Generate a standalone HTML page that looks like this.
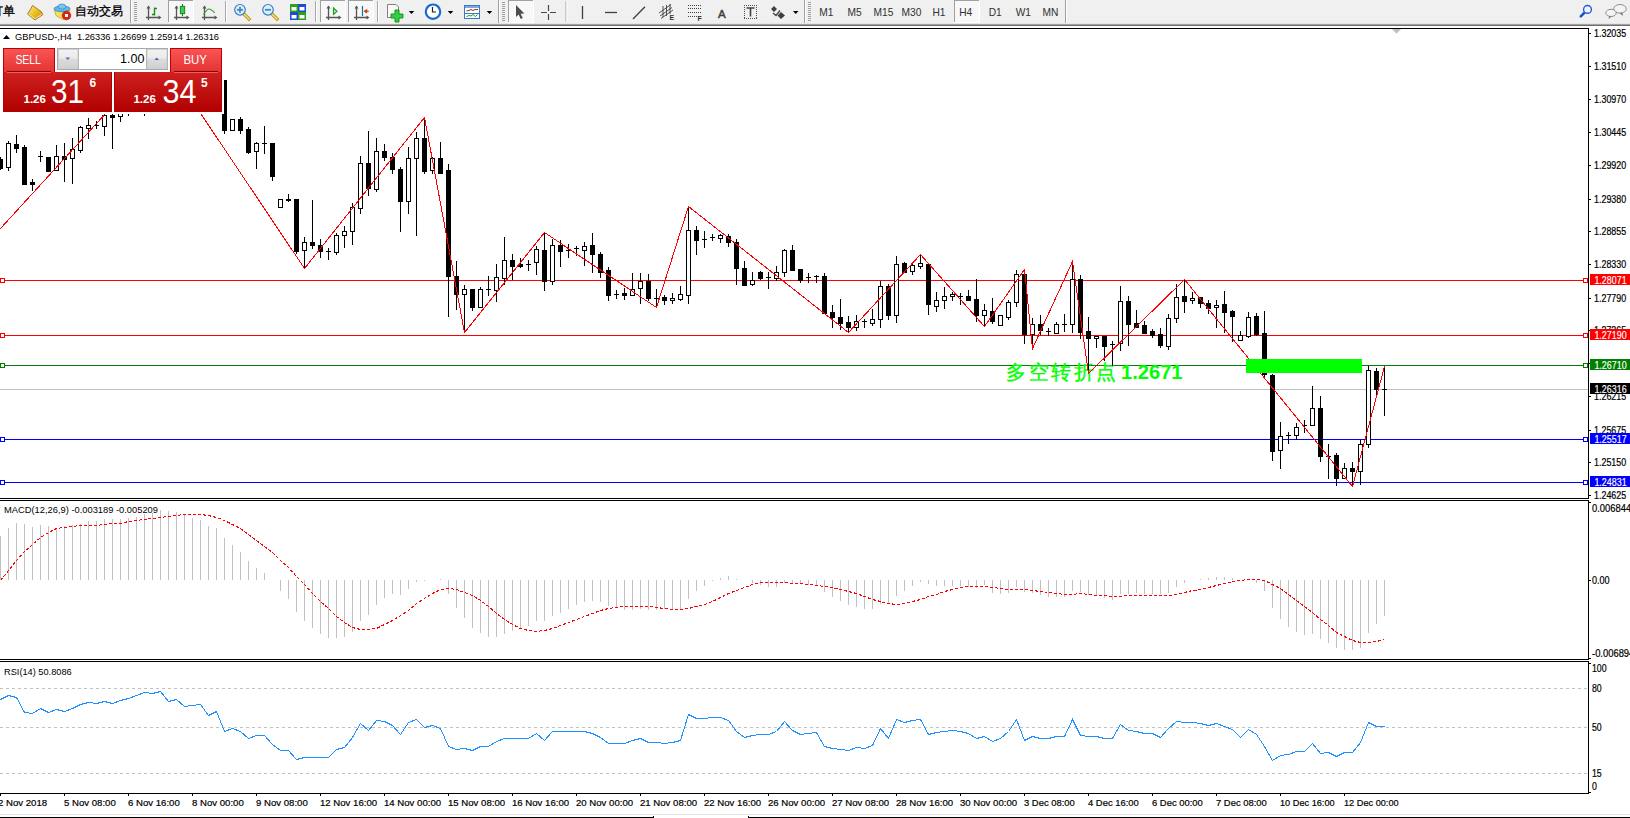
<!DOCTYPE html>
<html><head><meta charset="utf-8"><style>
html,body{margin:0;padding:0;background:#fff;width:1630px;height:818px;overflow:hidden;}
svg text{font-family:"Liberation Sans", sans-serif;}
.tb{position:absolute;left:0;top:0;width:1630px;height:24px;background:#f0f0f0;}
</style></head><body>
<svg width="1630" height="818" viewBox="0 0 1630 818" style="position:absolute;left:0;top:0">
<rect x="0" y="0" width="1630" height="24" fill="#f0f0f0"/><rect x="0" y="23" width="1630" height="1" fill="#e6e6e6"/><rect x="0" y="24" width="1630" height="1" fill="#a3a3a3"/><rect x="0" y="25" width="1630" height="1" fill="#6e6e6e"/><text x="-9" y="14.6" font-size="12" fill="#000" stroke="#000" stroke-width="0.3" style="font-family:'Liberation Sans',sans-serif">订单</text><defs><linearGradient id="gbk" x1="0" y1="0" x2="1" y2="1"><stop offset="0" stop-color="#fff0a0"/><stop offset="0.5" stop-color="#e8c020"/><stop offset="1" stop-color="#c89010"/></linearGradient></defs><path d="M32.5 5.5 L41.5 11.8 L43 14.5 L35 20 L27.5 14 L31 8.5 Z" fill="url(#gbk)" stroke="#a86a18" stroke-width="0.9"/><path d="M28.5 14 L35.2 18.8 L42.5 13.8" fill="none" stroke="#f8e8b0" stroke-width="0.9"/><path d="M54.5 10.5 L70 10.5 L63.5 19.8 L56 15.5 Z" fill="#f4e060" stroke="#c8a020" stroke-width="0.8"/><ellipse cx="62" cy="8.8" rx="8" ry="2.9" fill="#64b8ea" stroke="#2a86b8" stroke-width="0.8"/><ellipse cx="62" cy="6.6" rx="3.8" ry="2.6" fill="#78c8f2" stroke="#2a86b8" stroke-width="0.7"/><circle cx="66.5" cy="15.5" r="4.3" fill="#e02010" stroke="#b01008" stroke-width="0.6"/><rect x="65" y="14" width="3" height="3" fill="#fff"/><text x="75.3" y="14.5" font-size="11.6" fill="#000" stroke="#000" stroke-width="0.3" style="font-family:'Liberation Sans',sans-serif">自动交易</text><rect x="130" y="0" width="1" height="23" fill="#a0a0a0"/><rect x="131" y="0" width="1" height="23" fill="#fff"/><rect x="134" y="2" width="3" height="1" fill="#a0a0a0"/><rect x="134" y="4" width="3" height="1" fill="#a0a0a0"/><rect x="134" y="6" width="3" height="1" fill="#a0a0a0"/><rect x="134" y="8" width="3" height="1" fill="#a0a0a0"/><rect x="134" y="10" width="3" height="1" fill="#a0a0a0"/><rect x="134" y="12" width="3" height="1" fill="#a0a0a0"/><rect x="134" y="14" width="3" height="1" fill="#a0a0a0"/><rect x="134" y="16" width="3" height="1" fill="#a0a0a0"/><rect x="134" y="18" width="3" height="1" fill="#a0a0a0"/><rect x="134" y="20" width="3" height="1" fill="#a0a0a0"/><path d="M148.5 6 V20 M146.0 17.5 H160.0" stroke="#555" stroke-width="1.3" fill="none"/><path d="M146.5 8.5 L148.5 5.5 L150.5 8.5 Z M158.5 15.5 L161.5 17.5 L158.5 19.5 Z" fill="#555"/><path d="M154.5 7.5 V15.5 M154.5 8.5 H157 M152 14.5 H154.5" stroke="#109010" stroke-width="1.3" fill="none"/><rect x="168" y="0" width="25" height="22" fill="#f8f8f8"/><rect x="168" y="0" width="1" height="22" fill="#a0a0a0"/><rect x="168" y="0" width="25" height="1" fill="#a0a0a0"/><rect x="168" y="22" width="26" height="1" fill="#fff"/><rect x="193" y="0" width="1" height="23" fill="#fff"/><path d="M176.5 6 V20 M174.0 17.5 H188.0" stroke="#555" stroke-width="1.3" fill="none"/><path d="M174.5 8.5 L176.5 5.5 L178.5 8.5 Z M186.5 15.5 L189.5 17.5 L186.5 19.5 Z" fill="#555"/><rect x="180.3" y="6.3" width="4.4" height="7.4" fill="#30d050" stroke="#108010" stroke-width="0.9"/><path d="M182.5 4 V6.3 M182.5 13.7 V16" stroke="#108010" stroke-width="1.1"/><path d="M204.5 6 V20 M202.0 17.5 H216.0" stroke="#555" stroke-width="1.3" fill="none"/><path d="M202.5 8.5 L204.5 5.5 L206.5 8.5 Z M214.5 15.5 L217.5 17.5 L214.5 19.5 Z" fill="#555"/><path d="M203.5 14.5 Q207 9 209 9 Q211 9 214.7 12.8" stroke="#30a030" stroke-width="1.2" fill="none"/><rect x="225" y="1" width="1" height="21" fill="#a8a8a8"/><rect x="226" y="1" width="1" height="21" fill="#fff"/><path d="M243 13 L249 19" stroke="#b08010" stroke-width="3.2" stroke-linecap="square"/><path d="M243 13 L249 19" stroke="#f0d860" stroke-width="1.8" stroke-linecap="square"/><circle cx="240" cy="9.8" r="5.3" fill="#d8f0ff" stroke="#3a7cc4" stroke-width="1.2"/><path d="M237 9.8 H243" stroke="#4a88b4" stroke-width="1.8"/><path d="M240 6.8 V12.8" stroke="#4a88b4" stroke-width="1.8"/><path d="M271 13 L277 19" stroke="#b08010" stroke-width="3.2" stroke-linecap="square"/><path d="M271 13 L277 19" stroke="#f0d860" stroke-width="1.8" stroke-linecap="square"/><circle cx="268" cy="9.8" r="5.3" fill="#d8f0ff" stroke="#3a7cc4" stroke-width="1.2"/><path d="M265 9.8 H271" stroke="#4a88b4" stroke-width="1.8"/><rect x="290" y="4" width="8" height="8" fill="#2ea020"/><rect x="291.5" y="7" width="5" height="3.5" fill="#fff"/><rect x="298" y="4" width="8" height="8" fill="#1c4cd0"/><rect x="299.5" y="7" width="5" height="3.5" fill="#fff"/><rect x="290" y="12" width="8" height="8" fill="#1c4cd0"/><rect x="291.5" y="15" width="5" height="3.5" fill="#fff"/><rect x="298" y="12" width="8" height="8" fill="#2ea020"/><rect x="299.5" y="15" width="5" height="3.5" fill="#fff"/><rect x="315" y="1" width="1" height="21" fill="#a8a8a8"/><rect x="316" y="1" width="1" height="21" fill="#fff"/><rect x="320" y="0" width="25" height="22" fill="#f8f8f8"/><rect x="320" y="0" width="1" height="22" fill="#a0a0a0"/><rect x="320" y="0" width="25" height="1" fill="#a0a0a0"/><rect x="320" y="22" width="26" height="1" fill="#fff"/><rect x="345" y="0" width="1" height="23" fill="#fff"/><path d="M328.5 6 V20 M326.0 17.5 H340.0" stroke="#555" stroke-width="1.3" fill="none"/><path d="M326.5 8.5 L328.5 5.5 L330.5 8.5 Z M338.5 15.5 L341.5 17.5 L338.5 19.5 Z" fill="#555"/><path d="M333.5 8 L337 11.3 L333.5 14.5 Z" fill="#c8f0c8" stroke="#20a020" stroke-width="1.2"/><rect x="348" y="0" width="25" height="22" fill="#f8f8f8"/><rect x="348" y="0" width="1" height="22" fill="#a0a0a0"/><rect x="348" y="0" width="25" height="1" fill="#a0a0a0"/><rect x="348" y="22" width="26" height="1" fill="#fff"/><rect x="373" y="0" width="1" height="23" fill="#fff"/><path d="M356.5 6 V20 M354.0 17.5 H368.0" stroke="#555" stroke-width="1.3" fill="none"/><path d="M354.5 8.5 L356.5 5.5 L358.5 8.5 Z M366.5 15.5 L369.5 17.5 L366.5 19.5 Z" fill="#555"/><path d="M362.5 6 V16" stroke="#1070b0" stroke-width="1.2"/><path d="M364 11.3 L367 9.5 L366 11.3 L368.5 11.3 L366 11.3 L367 13 Z" fill="#d04010" stroke="#d04010" stroke-width="1"/><rect x="377" y="1" width="1" height="21" fill="#a8a8a8"/><rect x="378" y="1" width="1" height="21" fill="#fff"/><path d="M387.5 4.5 H396 L398.5 7 V17.5 H387.5 Z" fill="#fafafa" stroke="#808080" stroke-width="1"/><path d="M395 10 H399 V14 H403 V18 H399 V22 H395 V18 H391 V14 H395 Z" fill="#30d040" stroke="#108a10" stroke-width="0.9"/><path d="M408.8 11 H414.3 L411.55 14 Z" fill="#000"/><circle cx="433" cy="11.7" r="7.2" fill="#fff" stroke="#1a6ad0" stroke-width="2.2"/><path d="M432.5 7 V12 H436" stroke="#222" stroke-width="1.2" fill="none"/><path d="M447.8 11 H453.3 L450.55 14 Z" fill="#000"/><rect x="464.5" y="5.5" width="15" height="13" fill="#fff" stroke="#3a78c8" stroke-width="1"/><rect x="465" y="6" width="14" height="2" fill="#7aaae6"/><rect x="465" y="13" width="14" height="1" fill="#3a78c8"/><path d="M466.5 11 L469 10.5 L471 9.5 L473 10.5 L475 9.5 L478 9.5" stroke="#a03010" stroke-width="1" fill="none"/><path d="M466.5 16.5 L469 15.5 L471 16 L473 14.5 L475.5 16.5 L477.5 14.5" stroke="#20a020" stroke-width="1" fill="none"/><path d="M486.7 11 H492.2 L489.45 14 Z" fill="#000"/><rect x="498" y="0" width="1" height="23" fill="#a0a0a0"/><rect x="499" y="0" width="1" height="23" fill="#fff"/><rect x="502" y="2" width="3" height="1" fill="#a0a0a0"/><rect x="502" y="4" width="3" height="1" fill="#a0a0a0"/><rect x="502" y="6" width="3" height="1" fill="#a0a0a0"/><rect x="502" y="8" width="3" height="1" fill="#a0a0a0"/><rect x="502" y="10" width="3" height="1" fill="#a0a0a0"/><rect x="502" y="12" width="3" height="1" fill="#a0a0a0"/><rect x="502" y="14" width="3" height="1" fill="#a0a0a0"/><rect x="502" y="16" width="3" height="1" fill="#a0a0a0"/><rect x="502" y="18" width="3" height="1" fill="#a0a0a0"/><rect x="502" y="20" width="3" height="1" fill="#a0a0a0"/><rect x="508" y="0" width="25" height="22" fill="#f8f8f8"/><rect x="508" y="0" width="1" height="22" fill="#a0a0a0"/><rect x="508" y="0" width="25" height="1" fill="#a0a0a0"/><rect x="508" y="22" width="26" height="1" fill="#fff"/><rect x="533" y="0" width="1" height="23" fill="#fff"/><path d="M516 5 L516 17 L518.6 14.5 L520.8 19 L522.8 18 L520.6 13.8 L524.3 13.5 Z" fill="#4c4c4c"/><path d="M548.5 5 V11 M548.5 14 V20 M541 12.5 H547 M550 12.5 H556" stroke="#484848" stroke-width="1.2"/><rect x="565.5" y="1" width="1" height="21" fill="#a8a8a8"/><rect x="566.5" y="1" width="1" height="21" fill="#fff"/><path d="M582.5 6 V19" stroke="#404040" stroke-width="1.3"/><path d="M605 12.5 H617" stroke="#404040" stroke-width="1.3"/><path d="M633 19 L645 6.8" stroke="#404040" stroke-width="1.3"/><path d="M659 13 L671 4.5 M660 16 L672 7.5 M661 18.5 L673 10 M663 6 L663 17 M666.5 5 L666.5 16 M670 4 L670 14" stroke="#404040" stroke-width="0.9" fill="none"/><text x="669.5" y="20" font-size="7" font-weight="bold" fill="#303030" style="font-family:'Liberation Sans',sans-serif">E</text><path d="M688 5.5 H701" stroke="#404040" stroke-width="1" stroke-dasharray="1,1"/><path d="M688 8.5 H701" stroke="#404040" stroke-width="1" stroke-dasharray="1,1"/><path d="M688 12.5 H701" stroke="#404040" stroke-width="1" stroke-dasharray="1,1"/><path d="M688 16.5 H701" stroke="#404040" stroke-width="1" stroke-dasharray="1,1"/><text x="697.5" y="21" font-size="7" font-weight="bold" fill="#303030" style="font-family:'Liberation Sans',sans-serif">F</text><text x="718" y="17.5" font-size="11.5" fill="#404040" stroke="#404040" stroke-width="0.5" style="font-family:'Liberation Sans',sans-serif">A</text><g fill="#505050" shape-rendering="crispEdges"><rect x="744" y="5" width="1" height="1"/><rect x="744" y="18" width="1" height="1"/><rect x="746" y="5" width="1" height="1"/><rect x="746" y="18" width="1" height="1"/><rect x="748" y="5" width="1" height="1"/><rect x="748" y="18" width="1" height="1"/><rect x="750" y="5" width="1" height="1"/><rect x="750" y="18" width="1" height="1"/><rect x="752" y="5" width="1" height="1"/><rect x="752" y="18" width="1" height="1"/><rect x="754" y="5" width="1" height="1"/><rect x="754" y="18" width="1" height="1"/><rect x="756" y="5" width="1" height="1"/><rect x="756" y="18" width="1" height="1"/><rect x="744" y="5" width="1" height="1"/><rect x="756" y="5" width="1" height="1"/><rect x="744" y="7" width="1" height="1"/><rect x="756" y="7" width="1" height="1"/><rect x="744" y="9" width="1" height="1"/><rect x="756" y="9" width="1" height="1"/><rect x="744" y="11" width="1" height="1"/><rect x="756" y="11" width="1" height="1"/><rect x="744" y="13" width="1" height="1"/><rect x="756" y="13" width="1" height="1"/><rect x="744" y="15" width="1" height="1"/><rect x="756" y="15" width="1" height="1"/><rect x="744" y="17" width="1" height="1"/><rect x="756" y="17" width="1" height="1"/></g><path d="M746.5 8 H754.5 M750.5 8 V16.5" stroke="#404040" stroke-width="1.6" fill="none"/><path d="M774 6 L777 9 L774 12 L771 9 Z M781 12 L785 15.5 L781 19 L777.5 15.5 Z" fill="#404040"/><path d="M773 13 L776 15.5 L780 10.5" stroke="#404040" stroke-width="1.3" fill="none"/><path d="M793 11 H798.5 L795.75 14 Z" fill="#000"/><rect x="804" y="0" width="1" height="23" fill="#a0a0a0"/><rect x="805" y="0" width="1" height="23" fill="#fff"/><rect x="808" y="2" width="3" height="1" fill="#a0a0a0"/><rect x="808" y="4" width="3" height="1" fill="#a0a0a0"/><rect x="808" y="6" width="3" height="1" fill="#a0a0a0"/><rect x="808" y="8" width="3" height="1" fill="#a0a0a0"/><rect x="808" y="10" width="3" height="1" fill="#a0a0a0"/><rect x="808" y="12" width="3" height="1" fill="#a0a0a0"/><rect x="808" y="14" width="3" height="1" fill="#a0a0a0"/><rect x="808" y="16" width="3" height="1" fill="#a0a0a0"/><rect x="808" y="18" width="3" height="1" fill="#a0a0a0"/><rect x="808" y="20" width="3" height="1" fill="#a0a0a0"/><rect x="954" y="0" width="25" height="22" fill="#f8f8f8"/><rect x="954" y="0" width="1" height="22" fill="#a0a0a0"/><rect x="954" y="0" width="25" height="1" fill="#a0a0a0"/><rect x="954" y="22" width="26" height="1" fill="#fff"/><rect x="979" y="0" width="1" height="23" fill="#fff"/><text x="819.3" y="16.2" font-size="10.2" fill="#303030" style="font-family:'Liberation Sans',sans-serif">M1</text><text x="847.5" y="16.2" font-size="10.2" fill="#303030" style="font-family:'Liberation Sans',sans-serif">M5</text><text x="873.6" y="16.2" font-size="10.2" fill="#303030" style="font-family:'Liberation Sans',sans-serif">M15</text><text x="901.6" y="16.2" font-size="10.2" fill="#303030" style="font-family:'Liberation Sans',sans-serif">M30</text><text x="932.5" y="16.2" font-size="10.2" fill="#303030" style="font-family:'Liberation Sans',sans-serif">H1</text><text x="959.2" y="16.2" font-size="10.2" fill="#303030" style="font-family:'Liberation Sans',sans-serif">H4</text><text x="988.7" y="16.2" font-size="10.2" fill="#303030" style="font-family:'Liberation Sans',sans-serif">D1</text><text x="1015.7" y="16.2" font-size="10.2" fill="#303030" style="font-family:'Liberation Sans',sans-serif">W1</text><text x="1042.6" y="16.2" font-size="10.2" fill="#303030" style="font-family:'Liberation Sans',sans-serif">MN</text><rect x="1065" y="0" width="1" height="23" fill="#a0a0a0"/><rect x="1066" y="0" width="1" height="23" fill="#fff"/><path d="M1585 12.2 L1580.8 16.4" stroke="#1a50d0" stroke-width="2.6" stroke-linecap="round"/><circle cx="1587.5" cy="9.4" r="3.9" fill="#f4f4ff" stroke="#1a5ad8" stroke-width="1.4"/><path d="M1622 12 L1623 16 L1619 12.5 Z" fill="#606060"/><ellipse cx="1620" cy="8.8" rx="6.3" ry="4.3" fill="#f4f4f8" stroke="#808080" stroke-width="0.9"/><path d="M1609.5 15.5 L1608.5 19 L1612 16 Z" fill="#606060"/><ellipse cx="1611" cy="12.9" rx="5.2" ry="3.6" fill="#f4f4f8" stroke="#808080" stroke-width="0.9"/>
<g font-size="9.6"><rect x="0" y="28" width="1589" height="1" fill="#000"/><rect x="0" y="498" width="1589" height="1" fill="#000"/><rect x="1588" y="28" width="1" height="471" fill="#000"/><rect x="0" y="500" width="1589" height="1" fill="#000"/><rect x="0" y="659" width="1589" height="1" fill="#000"/><rect x="1588" y="500" width="1" height="160" fill="#000"/><rect x="0" y="661" width="1589" height="1" fill="#000"/><rect x="0" y="793" width="1589" height="1" fill="#000"/><rect x="1588" y="661" width="1" height="133" fill="#000"/><rect x="1589" y="33" width="2" height="1" fill="#000"/><rect x="1589" y="66" width="2" height="1" fill="#000"/><rect x="1589" y="99" width="2" height="1" fill="#000"/><rect x="1589" y="132" width="2" height="1" fill="#000"/><rect x="1589" y="165" width="2" height="1" fill="#000"/><rect x="1589" y="199" width="2" height="1" fill="#000"/><rect x="1589" y="231" width="2" height="1" fill="#000"/><rect x="1589" y="264" width="2" height="1" fill="#000"/><rect x="1589" y="298" width="2" height="1" fill="#000"/><rect x="1589" y="330" width="2" height="1" fill="#000"/><rect x="1589" y="363" width="2" height="1" fill="#000"/><rect x="1589" y="396" width="2" height="1" fill="#000"/><rect x="1589" y="430" width="2" height="1" fill="#000"/><rect x="1589" y="462" width="2" height="1" fill="#000"/><rect x="1589" y="495" width="2" height="1" fill="#000"/><rect x="0" y="280" width="1588" height="1" fill="#ff0000"/><rect x="0.5" y="278.5" width="4" height="4" fill="#fff" stroke="#ff0000" stroke-width="1"/><rect x="1583.5" y="278.5" width="4" height="4" fill="#fff" stroke="#ff0000" stroke-width="1"/><rect x="0" y="335" width="1588" height="1" fill="#ff0000"/><rect x="0.5" y="333.5" width="4" height="4" fill="#fff" stroke="#ff0000" stroke-width="1"/><rect x="1583.5" y="333.5" width="4" height="4" fill="#fff" stroke="#ff0000" stroke-width="1"/><rect x="0" y="365" width="1588" height="1" fill="#008000"/><rect x="0.5" y="363.5" width="4" height="4" fill="#fff" stroke="#008000" stroke-width="1"/><rect x="1583.5" y="363.5" width="4" height="4" fill="#fff" stroke="#008000" stroke-width="1"/><rect x="0" y="439" width="1588" height="1" fill="#0000ff"/><rect x="0.5" y="437.5" width="4" height="4" fill="#fff" stroke="#0000ff" stroke-width="1"/><rect x="1583.5" y="437.5" width="4" height="4" fill="#fff" stroke="#0000ff" stroke-width="1"/><rect x="0" y="482" width="1588" height="1" fill="#0000ff"/><rect x="0.5" y="480.5" width="4" height="4" fill="#fff" stroke="#0000ff" stroke-width="1"/><rect x="1583.5" y="480.5" width="4" height="4" fill="#fff" stroke="#0000ff" stroke-width="1"/><rect x="0" y="389" width="1588" height="1" fill="#c0c0c0"/><text x="1006" y="379" font-size="20" letter-spacing="2.6" fill="#00ff00" stroke="#00ff00" stroke-width="0.35" style="font-family:'Liberation Serif',serif">多空转折点</text><text x="1121" y="379" font-size="20" font-weight="bold" fill="#00ff00" textLength="61.5" lengthAdjust="spacingAndGlyphs">1.2671</text><g fill="#000" shape-rendering="crispEdges"><rect x="0" y="157" width="1" height="13"/><rect x="-2" y="159" width="5" height="10"/><rect x="8" y="141" width="1" height="30"/><rect x="6" y="143" width="5" height="25"/><rect x="7" y="144" width="3" height="23" fill="#fff"/><rect x="16" y="135" width="1" height="18"/><rect x="14" y="144" width="5" height="5"/><rect x="24" y="145" width="1" height="40"/><rect x="22" y="147" width="5" height="38"/><rect x="32" y="179" width="1" height="12"/><rect x="30" y="182" width="5" height="3"/><rect x="40" y="151" width="1" height="11"/><rect x="38" y="156" width="5" height="1"/><rect x="48" y="157" width="1" height="15"/><rect x="46" y="157" width="5" height="15"/><rect x="56" y="145" width="1" height="26"/><rect x="54" y="156" width="5" height="15"/><rect x="55" y="157" width="3" height="13" fill="#fff"/><rect x="64" y="143" width="1" height="39"/><rect x="62" y="156" width="5" height="4"/><rect x="72" y="138" width="1" height="46"/><rect x="70" y="149" width="5" height="10"/><rect x="71" y="150" width="3" height="8" fill="#fff"/><rect x="80" y="126" width="1" height="27"/><rect x="78" y="127" width="5" height="24"/><rect x="79" y="128" width="3" height="22" fill="#fff"/><rect x="88" y="118" width="1" height="21"/><rect x="86" y="125" width="5" height="4"/><rect x="87" y="126" width="3" height="2" fill="#fff"/><rect x="96" y="121" width="1" height="8"/><rect x="94" y="125" width="5" height="1"/><rect x="104" y="114" width="1" height="22"/><rect x="102" y="115" width="5" height="12"/><rect x="103" y="116" width="3" height="10" fill="#fff"/><rect x="112" y="100" width="1" height="49"/><rect x="110" y="115" width="5" height="3"/><rect x="120" y="60" width="1" height="62"/><rect x="118" y="80" width="5" height="37"/><rect x="119" y="81" width="3" height="35" fill="#fff"/><rect x="128" y="60" width="1" height="56"/><rect x="126" y="70" width="5" height="31"/><rect x="136" y="60" width="1" height="46"/><rect x="134" y="70" width="5" height="31"/><rect x="135" y="71" width="3" height="29" fill="#fff"/><rect x="144" y="55" width="1" height="61"/><rect x="142" y="65" width="5" height="26"/><rect x="143" y="66" width="3" height="24" fill="#fff"/><rect x="152" y="52" width="1" height="49"/><rect x="150" y="60" width="5" height="21"/><rect x="151" y="61" width="3" height="19" fill="#fff"/><rect x="160" y="51" width="1" height="45"/><rect x="158" y="55" width="5" height="21"/><rect x="168" y="55" width="1" height="46"/><rect x="166" y="60" width="5" height="21"/><rect x="176" y="55" width="1" height="46"/><rect x="174" y="60" width="5" height="31"/><rect x="175" y="61" width="3" height="29" fill="#fff"/><rect x="184" y="60" width="1" height="41"/><rect x="182" y="65" width="5" height="21"/><rect x="192" y="60" width="1" height="46"/><rect x="190" y="70" width="5" height="21"/><rect x="200" y="65" width="1" height="36"/><rect x="198" y="70" width="5" height="16"/><rect x="199" y="71" width="3" height="14" fill="#fff"/><rect x="208" y="70" width="1" height="36"/><rect x="206" y="75" width="5" height="21"/><rect x="216" y="72" width="1" height="37"/><rect x="214" y="78" width="5" height="23"/><rect x="215" y="79" width="3" height="21" fill="#fff"/><rect x="224" y="80" width="1" height="54"/><rect x="222" y="80" width="5" height="51"/><rect x="232" y="119" width="1" height="12"/><rect x="230" y="119" width="5" height="12"/><rect x="231" y="120" width="3" height="10" fill="#fff"/><rect x="240" y="117" width="1" height="17"/><rect x="238" y="119" width="5" height="12"/><rect x="248" y="127" width="1" height="27"/><rect x="246" y="129" width="5" height="24"/><rect x="256" y="142" width="1" height="27"/><rect x="254" y="143" width="5" height="9"/><rect x="255" y="144" width="3" height="7" fill="#fff"/><rect x="264" y="126" width="1" height="28"/><rect x="262" y="143" width="5" height="1"/><rect x="272" y="143" width="1" height="38"/><rect x="270" y="143" width="5" height="34"/><rect x="280" y="199" width="1" height="9"/><rect x="278" y="199" width="5" height="9"/><rect x="279" y="200" width="3" height="7" fill="#fff"/><rect x="288" y="194" width="1" height="8"/><rect x="286" y="199" width="5" height="2"/><rect x="296" y="199" width="1" height="55"/><rect x="294" y="199" width="5" height="53"/><rect x="304" y="237" width="1" height="32"/><rect x="302" y="242" width="5" height="9"/><rect x="303" y="243" width="3" height="7" fill="#fff"/><rect x="312" y="200" width="1" height="49"/><rect x="310" y="242" width="5" height="4"/><rect x="320" y="239" width="1" height="19"/><rect x="318" y="245" width="5" height="7"/><rect x="328" y="248" width="1" height="12"/><rect x="326" y="251" width="5" height="1"/><rect x="336" y="233" width="1" height="22"/><rect x="334" y="235" width="5" height="18"/><rect x="335" y="236" width="3" height="16" fill="#fff"/><rect x="344" y="226" width="1" height="22"/><rect x="342" y="231" width="5" height="5"/><rect x="343" y="232" width="3" height="3" fill="#fff"/><rect x="352" y="203" width="1" height="42"/><rect x="350" y="207" width="5" height="25"/><rect x="351" y="208" width="3" height="23" fill="#fff"/><rect x="360" y="156" width="1" height="58"/><rect x="358" y="163" width="5" height="46"/><rect x="359" y="164" width="3" height="44" fill="#fff"/><rect x="368" y="131" width="1" height="65"/><rect x="366" y="163" width="5" height="26"/><rect x="376" y="138" width="1" height="54"/><rect x="374" y="151" width="5" height="39"/><rect x="375" y="152" width="3" height="37" fill="#fff"/><rect x="384" y="144" width="1" height="17"/><rect x="382" y="151" width="5" height="7"/><rect x="392" y="153" width="1" height="21"/><rect x="390" y="157" width="5" height="13"/><rect x="400" y="167" width="1" height="65"/><rect x="398" y="169" width="5" height="33"/><rect x="408" y="147" width="1" height="67"/><rect x="406" y="158" width="5" height="44"/><rect x="407" y="159" width="3" height="42" fill="#fff"/><rect x="416" y="132" width="1" height="104"/><rect x="414" y="138" width="5" height="21"/><rect x="415" y="139" width="3" height="19" fill="#fff"/><rect x="424" y="117" width="1" height="57"/><rect x="422" y="138" width="5" height="34"/><rect x="432" y="157" width="1" height="17"/><rect x="430" y="158" width="5" height="13"/><rect x="431" y="159" width="3" height="11" fill="#fff"/><rect x="440" y="142" width="1" height="32"/><rect x="438" y="158" width="5" height="16"/><rect x="448" y="164" width="1" height="153"/><rect x="446" y="170" width="5" height="107"/><rect x="456" y="261" width="1" height="49"/><rect x="454" y="276" width="5" height="19"/><rect x="464" y="285" width="1" height="48"/><rect x="462" y="289" width="5" height="6"/><rect x="463" y="290" width="3" height="4" fill="#fff"/><rect x="472" y="289" width="1" height="22"/><rect x="470" y="289" width="5" height="19"/><rect x="480" y="287" width="1" height="21"/><rect x="478" y="289" width="5" height="19"/><rect x="479" y="290" width="3" height="17" fill="#fff"/><rect x="488" y="276" width="1" height="20"/><rect x="486" y="289" width="5" height="1"/><rect x="496" y="264" width="1" height="38"/><rect x="494" y="277" width="5" height="14"/><rect x="495" y="278" width="3" height="12" fill="#fff"/><rect x="504" y="237" width="1" height="48"/><rect x="502" y="260" width="5" height="19"/><rect x="503" y="261" width="3" height="17" fill="#fff"/><rect x="512" y="254" width="1" height="26"/><rect x="510" y="260" width="5" height="7"/><rect x="520" y="258" width="1" height="10"/><rect x="518" y="264" width="5" height="3"/><rect x="528" y="260" width="1" height="11"/><rect x="526" y="264" width="5" height="1"/><rect x="536" y="246" width="1" height="29"/><rect x="534" y="249" width="5" height="14"/><rect x="535" y="250" width="3" height="12" fill="#fff"/><rect x="544" y="232" width="1" height="59"/><rect x="542" y="250" width="5" height="32"/><rect x="552" y="239" width="1" height="46"/><rect x="550" y="245" width="5" height="37"/><rect x="551" y="246" width="3" height="35" fill="#fff"/><rect x="560" y="240" width="1" height="27"/><rect x="558" y="245" width="5" height="7"/><rect x="568" y="244" width="1" height="14"/><rect x="566" y="250" width="5" height="1"/><rect x="576" y="246" width="1" height="10"/><rect x="574" y="248" width="5" height="1"/><rect x="584" y="242" width="1" height="24"/><rect x="582" y="246" width="5" height="5"/><rect x="583" y="247" width="3" height="3" fill="#fff"/><rect x="592" y="233" width="1" height="40"/><rect x="590" y="245" width="5" height="10"/><rect x="600" y="252" width="1" height="26"/><rect x="598" y="254" width="5" height="19"/><rect x="608" y="267" width="1" height="34"/><rect x="606" y="270" width="5" height="26"/><rect x="616" y="290" width="1" height="9"/><rect x="614" y="294" width="5" height="1"/><rect x="624" y="288" width="1" height="12"/><rect x="622" y="293" width="5" height="3"/><rect x="632" y="273" width="1" height="23"/><rect x="630" y="289" width="5" height="7"/><rect x="631" y="290" width="3" height="5" fill="#fff"/><rect x="640" y="273" width="1" height="31"/><rect x="638" y="281" width="5" height="8"/><rect x="639" y="282" width="3" height="6" fill="#fff"/><rect x="648" y="274" width="1" height="27"/><rect x="646" y="281" width="5" height="18"/><rect x="656" y="289" width="1" height="19"/><rect x="654" y="298" width="5" height="1"/><rect x="664" y="295" width="1" height="10"/><rect x="662" y="297" width="5" height="4"/><rect x="672" y="293" width="1" height="11"/><rect x="670" y="298" width="5" height="3"/><rect x="671" y="299" width="3" height="1" fill="#fff"/><rect x="680" y="286" width="1" height="15"/><rect x="678" y="294" width="5" height="6"/><rect x="679" y="295" width="3" height="4" fill="#fff"/><rect x="688" y="206" width="1" height="98"/><rect x="686" y="230" width="5" height="66"/><rect x="687" y="231" width="3" height="64" fill="#fff"/><rect x="696" y="226" width="1" height="29"/><rect x="694" y="230" width="5" height="11"/><rect x="704" y="231" width="1" height="17"/><rect x="702" y="239" width="5" height="1"/><rect x="712" y="234" width="1" height="7"/><rect x="710" y="237" width="5" height="1"/><rect x="720" y="234" width="1" height="9"/><rect x="718" y="235" width="5" height="4"/><rect x="719" y="236" width="3" height="2" fill="#fff"/><rect x="728" y="234" width="1" height="13"/><rect x="726" y="236" width="5" height="7"/><rect x="736" y="239" width="1" height="46"/><rect x="734" y="242" width="5" height="27"/><rect x="744" y="261" width="1" height="25"/><rect x="742" y="268" width="5" height="18"/><rect x="752" y="272" width="1" height="14"/><rect x="750" y="280" width="5" height="5"/><rect x="751" y="281" width="3" height="3" fill="#fff"/><rect x="760" y="271" width="1" height="9"/><rect x="758" y="272" width="5" height="7"/><rect x="768" y="272" width="1" height="17"/><rect x="766" y="277" width="5" height="1"/><rect x="776" y="266" width="1" height="15"/><rect x="774" y="272" width="5" height="7"/><rect x="775" y="273" width="3" height="5" fill="#fff"/><rect x="784" y="249" width="1" height="28"/><rect x="782" y="250" width="5" height="23"/><rect x="783" y="251" width="3" height="21" fill="#fff"/><rect x="792" y="245" width="1" height="26"/><rect x="790" y="250" width="5" height="21"/><rect x="800" y="269" width="1" height="14"/><rect x="798" y="269" width="5" height="12"/><rect x="808" y="273" width="1" height="10"/><rect x="806" y="277" width="5" height="1"/><rect x="816" y="275" width="1" height="8"/><rect x="814" y="276" width="5" height="1"/><rect x="824" y="273" width="1" height="41"/><rect x="822" y="276" width="5" height="38"/><rect x="832" y="305" width="1" height="23"/><rect x="830" y="312" width="5" height="6"/><rect x="840" y="299" width="1" height="31"/><rect x="838" y="317" width="5" height="7"/><rect x="848" y="316" width="1" height="17"/><rect x="846" y="322" width="5" height="6"/><rect x="856" y="315" width="1" height="16"/><rect x="854" y="321" width="5" height="7"/><rect x="855" y="322" width="3" height="5" fill="#fff"/><rect x="864" y="319" width="1" height="9"/><rect x="862" y="321" width="5" height="1"/><rect x="872" y="309" width="1" height="17"/><rect x="870" y="319" width="5" height="5"/><rect x="871" y="320" width="3" height="3" fill="#fff"/><rect x="880" y="281" width="1" height="47"/><rect x="878" y="286" width="5" height="34"/><rect x="879" y="287" width="3" height="32" fill="#fff"/><rect x="888" y="284" width="1" height="36"/><rect x="886" y="286" width="5" height="30"/><rect x="896" y="256" width="1" height="67"/><rect x="894" y="264" width="5" height="52"/><rect x="895" y="265" width="3" height="50" fill="#fff"/><rect x="904" y="262" width="1" height="11"/><rect x="902" y="263" width="5" height="10"/><rect x="912" y="262" width="1" height="13"/><rect x="910" y="265" width="5" height="7"/><rect x="911" y="266" width="3" height="5" fill="#fff"/><rect x="920" y="254" width="1" height="15"/><rect x="918" y="263" width="5" height="4"/><rect x="919" y="264" width="3" height="2" fill="#fff"/><rect x="928" y="263" width="1" height="52"/><rect x="926" y="264" width="5" height="41"/><rect x="936" y="292" width="1" height="20"/><rect x="934" y="300" width="5" height="7"/><rect x="935" y="301" width="3" height="5" fill="#fff"/><rect x="944" y="287" width="1" height="22"/><rect x="942" y="296" width="5" height="5"/><rect x="943" y="297" width="3" height="3" fill="#fff"/><rect x="952" y="292" width="1" height="9"/><rect x="950" y="294" width="5" height="3"/><rect x="951" y="295" width="3" height="1" fill="#fff"/><rect x="960" y="293" width="1" height="12"/><rect x="958" y="296" width="5" height="1"/><rect x="968" y="290" width="1" height="11"/><rect x="966" y="296" width="5" height="5"/><rect x="976" y="279" width="1" height="43"/><rect x="974" y="299" width="5" height="17"/><rect x="984" y="304" width="1" height="23"/><rect x="982" y="310" width="5" height="6"/><rect x="983" y="311" width="3" height="4" fill="#fff"/><rect x="992" y="298" width="1" height="26"/><rect x="990" y="311" width="5" height="11"/><rect x="1000" y="315" width="1" height="11"/><rect x="998" y="315" width="5" height="11"/><rect x="999" y="316" width="3" height="9" fill="#fff"/><rect x="1008" y="300" width="1" height="20"/><rect x="1006" y="302" width="5" height="16"/><rect x="1007" y="303" width="3" height="14" fill="#fff"/><rect x="1016" y="270" width="1" height="37"/><rect x="1014" y="274" width="5" height="29"/><rect x="1015" y="275" width="3" height="27" fill="#fff"/><rect x="1024" y="269" width="1" height="75"/><rect x="1022" y="274" width="5" height="61"/><rect x="1032" y="318" width="1" height="27"/><rect x="1030" y="324" width="5" height="11"/><rect x="1031" y="325" width="3" height="9" fill="#fff"/><rect x="1040" y="315" width="1" height="20"/><rect x="1038" y="324" width="5" height="7"/><rect x="1048" y="328" width="1" height="8"/><rect x="1046" y="331" width="5" height="1"/><rect x="1056" y="322" width="1" height="12"/><rect x="1054" y="324" width="5" height="10"/><rect x="1055" y="325" width="3" height="8" fill="#fff"/><rect x="1064" y="314" width="1" height="18"/><rect x="1062" y="324" width="5" height="1"/><rect x="1072" y="261" width="1" height="72"/><rect x="1070" y="279" width="5" height="46"/><rect x="1071" y="280" width="3" height="44" fill="#fff"/><rect x="1080" y="275" width="1" height="64"/><rect x="1078" y="279" width="5" height="54"/><rect x="1088" y="317" width="1" height="56"/><rect x="1086" y="331" width="5" height="8"/><rect x="1096" y="336" width="1" height="12"/><rect x="1094" y="336" width="5" height="3"/><rect x="1095" y="337" width="3" height="1" fill="#fff"/><rect x="1104" y="336" width="1" height="25"/><rect x="1102" y="336" width="5" height="11"/><rect x="1112" y="341" width="1" height="25"/><rect x="1110" y="344" width="5" height="1"/><rect x="1120" y="286" width="1" height="65"/><rect x="1118" y="301" width="5" height="43"/><rect x="1119" y="302" width="3" height="41" fill="#fff"/><rect x="1128" y="296" width="1" height="50"/><rect x="1126" y="301" width="5" height="24"/><rect x="1136" y="310" width="1" height="18"/><rect x="1134" y="323" width="5" height="5"/><rect x="1144" y="321" width="1" height="13"/><rect x="1142" y="325" width="5" height="9"/><rect x="1152" y="329" width="1" height="9"/><rect x="1150" y="331" width="5" height="5"/><rect x="1160" y="328" width="1" height="20"/><rect x="1158" y="334" width="5" height="12"/><rect x="1168" y="314" width="1" height="36"/><rect x="1166" y="318" width="5" height="29"/><rect x="1167" y="319" width="3" height="27" fill="#fff"/><rect x="1176" y="284" width="1" height="39"/><rect x="1174" y="297" width="5" height="22"/><rect x="1175" y="298" width="3" height="20" fill="#fff"/><rect x="1184" y="279" width="1" height="34"/><rect x="1182" y="296" width="5" height="6"/><rect x="1192" y="292" width="1" height="12"/><rect x="1190" y="298" width="5" height="3"/><rect x="1191" y="299" width="3" height="1" fill="#fff"/><rect x="1200" y="297" width="1" height="11"/><rect x="1198" y="297" width="5" height="7"/><rect x="1208" y="300" width="1" height="14"/><rect x="1206" y="303" width="5" height="6"/><rect x="1216" y="300" width="1" height="28"/><rect x="1214" y="305" width="5" height="3"/><rect x="1215" y="306" width="3" height="1" fill="#fff"/><rect x="1224" y="291" width="1" height="42"/><rect x="1222" y="304" width="5" height="9"/><rect x="1232" y="310" width="1" height="32"/><rect x="1230" y="311" width="5" height="6"/><rect x="1240" y="331" width="1" height="10"/><rect x="1238" y="335" width="5" height="6"/><rect x="1239" y="336" width="3" height="4" fill="#fff"/><rect x="1248" y="312" width="1" height="26"/><rect x="1246" y="317" width="5" height="20"/><rect x="1247" y="318" width="3" height="18" fill="#fff"/><rect x="1256" y="313" width="1" height="23"/><rect x="1254" y="316" width="5" height="19"/><rect x="1264" y="311" width="1" height="68"/><rect x="1262" y="333" width="5" height="42"/><rect x="1272" y="374" width="1" height="87"/><rect x="1270" y="375" width="5" height="77"/><rect x="1280" y="422" width="1" height="47"/><rect x="1278" y="436" width="5" height="15"/><rect x="1279" y="437" width="3" height="13" fill="#fff"/><rect x="1288" y="432" width="1" height="12"/><rect x="1286" y="435" width="5" height="1"/><rect x="1296" y="423" width="1" height="17"/><rect x="1294" y="427" width="5" height="9"/><rect x="1295" y="428" width="3" height="7" fill="#fff"/><rect x="1304" y="420" width="1" height="13"/><rect x="1302" y="425" width="5" height="1"/><rect x="1312" y="386" width="1" height="40"/><rect x="1310" y="408" width="5" height="18"/><rect x="1311" y="409" width="3" height="16" fill="#fff"/><rect x="1320" y="396" width="1" height="66"/><rect x="1318" y="408" width="5" height="49"/><rect x="1328" y="444" width="1" height="35"/><rect x="1326" y="456" width="5" height="1"/><rect x="1336" y="453" width="1" height="33"/><rect x="1334" y="455" width="5" height="24"/><rect x="1344" y="463" width="1" height="16"/><rect x="1342" y="468" width="5" height="11"/><rect x="1343" y="469" width="3" height="9" fill="#fff"/><rect x="1352" y="462" width="1" height="25"/><rect x="1350" y="468" width="5" height="4"/><rect x="1360" y="440" width="1" height="45"/><rect x="1358" y="444" width="5" height="28"/><rect x="1359" y="445" width="3" height="26" fill="#fff"/><rect x="1368" y="366" width="1" height="82"/><rect x="1366" y="370" width="5" height="75"/><rect x="1367" y="371" width="3" height="73" fill="#fff"/><rect x="1376" y="368" width="1" height="27"/><rect x="1374" y="371" width="5" height="19"/><rect x="1384" y="366" width="1" height="50"/><rect x="1382" y="389" width="5" height="1"/></g><polyline points="-19.5,250.5 0.5,228.5 160.5,53.5 304.5,268.5 424.5,117.5 464.5,332.5 544.5,232.5 656.5,307.5 688.5,206.5 848.5,332.5 920.5,254.5 984.5,326.5 1024.5,269.5 1032.5,348.5 1072.5,261.5 1088.5,373.5 1184.5,279.5 1352.5,486.5 1384.5,366.5" fill="none" stroke="#ff0000" stroke-width="1" shape-rendering="crispEdges"/><rect x="1246" y="359" width="116" height="14" fill="#00ff00"/><g fill="#c0c0c0" shape-rendering="crispEdges"><rect x="0" y="536" width="1" height="44"/><rect x="8" y="528" width="1" height="52"/><rect x="16" y="523" width="1" height="57"/><rect x="24" y="524" width="1" height="56"/><rect x="32" y="527" width="1" height="53"/><rect x="40" y="525" width="1" height="55"/><rect x="48" y="526" width="1" height="54"/><rect x="56" y="529" width="1" height="51"/><rect x="64" y="526" width="1" height="54"/><rect x="72" y="525" width="1" height="55"/><rect x="80" y="524" width="1" height="56"/><rect x="88" y="521" width="1" height="59"/><rect x="96" y="521" width="1" height="59"/><rect x="104" y="519" width="1" height="61"/><rect x="112" y="519" width="1" height="61"/><rect x="120" y="519" width="1" height="61"/><rect x="128" y="518" width="1" height="62"/><rect x="136" y="517" width="1" height="63"/><rect x="144" y="514" width="1" height="66"/><rect x="152" y="513" width="1" height="67"/><rect x="160" y="510" width="1" height="70"/><rect x="168" y="511" width="1" height="69"/><rect x="176" y="512" width="1" height="68"/><rect x="184" y="515" width="1" height="65"/><rect x="192" y="518" width="1" height="62"/><rect x="200" y="520" width="1" height="60"/><rect x="208" y="526" width="1" height="54"/><rect x="216" y="528" width="1" height="52"/><rect x="224" y="538" width="1" height="42"/><rect x="232" y="545" width="1" height="35"/><rect x="240" y="552" width="1" height="28"/><rect x="248" y="561" width="1" height="19"/><rect x="256" y="568" width="1" height="12"/><rect x="264" y="573" width="1" height="7"/><rect x="280" y="580" width="1" height="11"/><rect x="288" y="580" width="1" height="19"/><rect x="296" y="580" width="1" height="32"/><rect x="304" y="580" width="1" height="41"/><rect x="312" y="580" width="1" height="48"/><rect x="320" y="580" width="1" height="54"/><rect x="328" y="580" width="1" height="58"/><rect x="336" y="580" width="1" height="58"/><rect x="344" y="580" width="1" height="57"/><rect x="352" y="580" width="1" height="52"/><rect x="360" y="580" width="1" height="41"/><rect x="368" y="580" width="1" height="35"/><rect x="376" y="580" width="1" height="25"/><rect x="384" y="580" width="1" height="18"/><rect x="392" y="580" width="1" height="14"/><rect x="400" y="580" width="1" height="15"/><rect x="408" y="580" width="1" height="9"/><rect x="416" y="580" width="1" height="2"/><rect x="424" y="580" width="1" height="1"/><rect x="440" y="579" width="1" height="1"/><rect x="448" y="580" width="1" height="14"/><rect x="456" y="580" width="1" height="28"/><rect x="464" y="580" width="1" height="38"/><rect x="472" y="580" width="1" height="48"/><rect x="480" y="580" width="1" height="53"/><rect x="488" y="580" width="1" height="57"/><rect x="496" y="580" width="1" height="57"/><rect x="504" y="580" width="1" height="54"/><rect x="512" y="580" width="1" height="51"/><rect x="520" y="580" width="1" height="49"/><rect x="528" y="580" width="1" height="46"/><rect x="536" y="580" width="1" height="41"/><rect x="544" y="580" width="1" height="41"/><rect x="552" y="580" width="1" height="36"/><rect x="560" y="580" width="1" height="33"/><rect x="568" y="580" width="1" height="29"/><rect x="576" y="580" width="1" height="25"/><rect x="584" y="580" width="1" height="22"/><rect x="592" y="580" width="1" height="21"/><rect x="600" y="580" width="1" height="22"/><rect x="608" y="580" width="1" height="26"/><rect x="616" y="580" width="1" height="28"/><rect x="624" y="580" width="1" height="30"/><rect x="632" y="580" width="1" height="30"/><rect x="640" y="580" width="1" height="29"/><rect x="648" y="580" width="1" height="30"/><rect x="656" y="580" width="1" height="30"/><rect x="664" y="580" width="1" height="29"/><rect x="672" y="580" width="1" height="29"/><rect x="680" y="580" width="1" height="30"/><rect x="688" y="580" width="1" height="19"/><rect x="696" y="580" width="1" height="11"/><rect x="704" y="580" width="1" height="6"/><rect x="712" y="580" width="1" height="1"/><rect x="720" y="578" width="1" height="2"/><rect x="728" y="576" width="1" height="4"/><rect x="736" y="579" width="1" height="1"/><rect x="752" y="580" width="1" height="3"/><rect x="760" y="580" width="1" height="5"/><rect x="768" y="580" width="1" height="7"/><rect x="776" y="580" width="1" height="7"/><rect x="784" y="580" width="1" height="3"/><rect x="792" y="580" width="1" height="3"/><rect x="800" y="580" width="1" height="4"/><rect x="808" y="580" width="1" height="5"/><rect x="816" y="580" width="1" height="5"/><rect x="824" y="580" width="1" height="12"/><rect x="832" y="580" width="1" height="17"/><rect x="840" y="580" width="1" height="21"/><rect x="848" y="580" width="1" height="25"/><rect x="856" y="580" width="1" height="27"/><rect x="864" y="580" width="1" height="29"/><rect x="872" y="580" width="1" height="29"/><rect x="880" y="580" width="1" height="24"/><rect x="888" y="580" width="1" height="24"/><rect x="896" y="580" width="1" height="16"/><rect x="904" y="580" width="1" height="11"/><rect x="912" y="580" width="1" height="6"/><rect x="920" y="580" width="1" height="2"/><rect x="928" y="580" width="1" height="4"/><rect x="936" y="580" width="1" height="6"/><rect x="944" y="580" width="1" height="6"/><rect x="952" y="580" width="1" height="6"/><rect x="960" y="580" width="1" height="6"/><rect x="968" y="580" width="1" height="7"/><rect x="976" y="580" width="1" height="8"/><rect x="984" y="580" width="1" height="5"/><rect x="992" y="580" width="1" height="13"/><rect x="1000" y="580" width="1" height="14"/><rect x="1008" y="580" width="1" height="13"/><rect x="1016" y="580" width="1" height="7"/><rect x="1024" y="580" width="1" height="12"/><rect x="1032" y="580" width="1" height="13"/><rect x="1040" y="580" width="1" height="15"/><rect x="1048" y="580" width="1" height="17"/><rect x="1056" y="580" width="1" height="17"/><rect x="1064" y="580" width="1" height="17"/><rect x="1072" y="580" width="1" height="11"/><rect x="1080" y="580" width="1" height="12"/><rect x="1088" y="580" width="1" height="15"/><rect x="1096" y="580" width="1" height="16"/><rect x="1104" y="580" width="1" height="18"/><rect x="1112" y="580" width="1" height="20"/><rect x="1120" y="580" width="1" height="14"/><rect x="1128" y="580" width="1" height="14"/><rect x="1136" y="580" width="1" height="13"/><rect x="1144" y="580" width="1" height="14"/><rect x="1152" y="580" width="1" height="14"/><rect x="1160" y="580" width="1" height="14"/><rect x="1168" y="580" width="1" height="13"/><rect x="1176" y="580" width="1" height="7"/><rect x="1184" y="580" width="1" height="3"/><rect x="1200" y="579" width="1" height="1"/><rect x="1208" y="578" width="1" height="2"/><rect x="1216" y="577" width="1" height="3"/><rect x="1224" y="577" width="1" height="3"/><rect x="1232" y="578" width="1" height="2"/><rect x="1256" y="580" width="1" height="3"/><rect x="1264" y="580" width="1" height="11"/><rect x="1272" y="580" width="1" height="28"/><rect x="1280" y="580" width="1" height="39"/><rect x="1288" y="580" width="1" height="47"/><rect x="1296" y="580" width="1" height="52"/><rect x="1304" y="580" width="1" height="55"/><rect x="1312" y="580" width="1" height="54"/><rect x="1320" y="580" width="1" height="59"/><rect x="1328" y="580" width="1" height="63"/><rect x="1336" y="580" width="1" height="68"/><rect x="1344" y="580" width="1" height="70"/><rect x="1352" y="580" width="1" height="70"/><rect x="1360" y="580" width="1" height="68"/><rect x="1368" y="580" width="1" height="53"/><rect x="1376" y="580" width="1" height="44"/><rect x="1384" y="580" width="1" height="36"/></g><polyline points="0.5,580.5 8.5,570.5 16.5,560.5 24.5,551.5 32.5,544.5 40.5,537.5 48.5,532.5 56.5,528.5 64.5,527.5 72.5,526.5 80.5,525.5 88.5,525.5 96.5,525.5 104.5,524.5 112.5,523.5 120.5,523.5 128.5,521.5 136.5,520.5 144.5,519.5 152.5,518.5 160.5,517.5 168.5,516.5 176.5,515.5 184.5,514.5 192.5,514.5 200.5,514.5 208.5,515.5 216.5,517.5 224.5,520.5 232.5,524.5 240.5,528.5 248.5,534.5 256.5,540.5 264.5,546.5 272.5,552.5 280.5,560.5 288.5,567.5 296.5,576.5 304.5,584.5 312.5,593.5 320.5,601.5 328.5,608.5 336.5,616.5 344.5,622.5 352.5,627.5 360.5,629.5 368.5,629.5 376.5,628.5 384.5,624.5 392.5,620.5 400.5,615.5 408.5,610.5 416.5,603.5 424.5,598.5 432.5,593.5 440.5,589.5 448.5,588.5 456.5,589.5 464.5,592.5 472.5,595.5 480.5,600.5 488.5,606.5 496.5,613.5 504.5,619.5 512.5,624.5 520.5,628.5 528.5,630.5 536.5,631.5 544.5,630.5 552.5,628.5 560.5,625.5 568.5,622.5 576.5,619.5 584.5,616.5 592.5,613.5 600.5,610.5 608.5,608.5 616.5,607.5 624.5,606.5 632.5,606.5 640.5,606.5 648.5,606.5 656.5,607.5 664.5,608.5 672.5,609.5 680.5,609.5 688.5,608.5 696.5,606.5 704.5,604.5 712.5,601.5 720.5,597.5 728.5,593.5 736.5,590.5 744.5,587.5 752.5,584.5 760.5,582.5 768.5,582.5 776.5,582.5 784.5,582.5 792.5,583.5 800.5,583.5 808.5,584.5 816.5,585.5 824.5,586.5 832.5,587.5 840.5,589.5 848.5,591.5 856.5,593.5 864.5,596.5 872.5,599.5 880.5,601.5 888.5,603.5 896.5,604.5 904.5,603.5 912.5,601.5 920.5,599.5 928.5,596.5 936.5,594.5 944.5,591.5 952.5,589.5 960.5,587.5 968.5,586.5 976.5,586.5 984.5,586.5 992.5,587.5 1000.5,588.5 1008.5,589.5 1016.5,589.5 1024.5,589.5 1032.5,590.5 1040.5,591.5 1048.5,592.5 1056.5,593.5 1064.5,594.5 1072.5,594.5 1080.5,593.5 1088.5,594.5 1096.5,595.5 1104.5,595.5 1112.5,596.5 1120.5,596.5 1128.5,595.5 1136.5,595.5 1144.5,595.5 1152.5,595.5 1160.5,595.5 1168.5,595.5 1176.5,594.5 1184.5,592.5 1192.5,590.5 1200.5,589.5 1208.5,587.5 1216.5,585.5 1224.5,583.5 1232.5,581.5 1240.5,580.5 1248.5,579.5 1256.5,579.5 1264.5,580.5 1272.5,584.5 1280.5,588.5 1288.5,594.5 1296.5,600.5 1304.5,606.5 1312.5,612.5 1320.5,619.5 1328.5,625.5 1336.5,632.5 1344.5,636.5 1352.5,640.5 1360.5,642.5 1368.5,642.5 1376.5,641.5 1384.5,639.5" fill="none" stroke="#ff0000" stroke-width="1" stroke-dasharray="3,2" shape-rendering="crispEdges"/><rect x="1589" y="502" width="2" height="1" fill="#000"/><rect x="1589" y="580" width="2" height="1" fill="#000"/><rect x="1589" y="658" width="2" height="1" fill="#000"/><line x1="0" y1="688.5" x2="1588" y2="688.5" stroke="#c0c0c0" stroke-width="1" stroke-dasharray="3,3"/><line x1="0" y1="727.5" x2="1588" y2="727.5" stroke="#c0c0c0" stroke-width="1" stroke-dasharray="3,3"/><line x1="0" y1="773.5" x2="1588" y2="773.5" stroke="#c0c0c0" stroke-width="1" stroke-dasharray="3,3"/><polyline points="0.5,699.5 8.5,695.5 16.5,697.5 24.5,712.5 32.5,713.5 40.5,708.5 48.5,712.5 56.5,709.5 64.5,711.5 72.5,708.5 80.5,704.5 88.5,702.5 96.5,703.5 104.5,701.5 112.5,703.5 120.5,700.5 128.5,698.5 136.5,695.5 144.5,692.5 152.5,693.5 160.5,691.5 168.5,701.5 176.5,699.5 184.5,706.5 192.5,705.5 200.5,704.5 208.5,715.5 216.5,711.5 224.5,731.5 232.5,728.5 240.5,731.5 248.5,738.5 256.5,735.5 264.5,735.5 272.5,744.5 280.5,750.5 288.5,750.5 296.5,759.5 304.5,757.5 312.5,757.5 320.5,757.5 328.5,757.5 336.5,749.5 344.5,747.5 352.5,737.5 360.5,723.5 368.5,730.5 376.5,720.5 384.5,721.5 392.5,725.5 400.5,734.5 408.5,722.5 416.5,719.5 424.5,727.5 432.5,725.5 440.5,728.5 448.5,746.5 456.5,749.5 464.5,748.5 472.5,750.5 480.5,746.5 488.5,746.5 496.5,741.5 504.5,738.5 512.5,738.5 520.5,738.5 528.5,738.5 536.5,733.5 544.5,740.5 552.5,731.5 560.5,731.5 568.5,731.5 576.5,731.5 584.5,731.5 592.5,733.5 600.5,737.5 608.5,743.5 616.5,743.5 624.5,743.5 632.5,740.5 640.5,738.5 648.5,742.5 656.5,742.5 664.5,743.5 672.5,742.5 680.5,740.5 688.5,714.5 696.5,718.5 704.5,718.5 712.5,717.5 720.5,717.5 728.5,720.5 736.5,731.5 744.5,737.5 752.5,735.5 760.5,734.5 768.5,734.5 776.5,731.5 784.5,721.5 792.5,730.5 800.5,734.5 808.5,733.5 816.5,732.5 824.5,746.5 832.5,748.5 840.5,749.5 848.5,750.5 856.5,747.5 864.5,748.5 872.5,745.5 880.5,728.5 888.5,738.5 896.5,719.5 904.5,722.5 912.5,720.5 920.5,719.5 928.5,734.5 936.5,732.5 944.5,731.5 952.5,730.5 960.5,731.5 968.5,733.5 976.5,738.5 984.5,736.5 992.5,741.5 1000.5,738.5 1008.5,731.5 1016.5,719.5 1024.5,740.5 1032.5,736.5 1040.5,738.5 1048.5,738.5 1056.5,736.5 1064.5,736.5 1072.5,719.5 1080.5,735.5 1088.5,736.5 1096.5,736.5 1104.5,738.5 1112.5,738.5 1120.5,724.5 1128.5,730.5 1136.5,731.5 1144.5,733.5 1152.5,733.5 1160.5,737.5 1168.5,728.5 1176.5,721.5 1184.5,722.5 1192.5,722.5 1200.5,723.5 1208.5,725.5 1216.5,723.5 1224.5,726.5 1232.5,729.5 1240.5,737.5 1248.5,729.5 1256.5,734.5 1264.5,746.5 1272.5,760.5 1280.5,755.5 1288.5,754.5 1296.5,751.5 1304.5,751.5 1312.5,743.5 1320.5,753.5 1328.5,752.5 1336.5,756.5 1344.5,752.5 1352.5,752.5 1360.5,742.5 1368.5,722.5 1376.5,726.5 1384.5,726.5" fill="none" stroke="#1e90ff" stroke-width="1" shape-rendering="crispEdges"/><rect x="1589" y="663" width="2" height="1" fill="#000"/><rect x="1589" y="792" width="2" height="1" fill="#000"/><rect x="0" y="794" width="1" height="2" fill="#000"/><rect x="64" y="794" width="1" height="2" fill="#000"/><rect x="128" y="794" width="1" height="2" fill="#000"/><rect x="192" y="794" width="1" height="2" fill="#000"/><rect x="256" y="794" width="1" height="2" fill="#000"/><rect x="320" y="794" width="1" height="2" fill="#000"/><rect x="384" y="794" width="1" height="2" fill="#000"/><rect x="448" y="794" width="1" height="2" fill="#000"/><rect x="512" y="794" width="1" height="2" fill="#000"/><rect x="576" y="794" width="1" height="2" fill="#000"/><rect x="640" y="794" width="1" height="2" fill="#000"/><rect x="704" y="794" width="1" height="2" fill="#000"/><rect x="768" y="794" width="1" height="2" fill="#000"/><rect x="832" y="794" width="1" height="2" fill="#000"/><rect x="896" y="794" width="1" height="2" fill="#000"/><rect x="960" y="794" width="1" height="2" fill="#000"/><rect x="1024" y="794" width="1" height="2" fill="#000"/><rect x="1088" y="794" width="1" height="2" fill="#000"/><rect x="1152" y="794" width="1" height="2" fill="#000"/><rect x="1216" y="794" width="1" height="2" fill="#000"/><rect x="1280" y="794" width="1" height="2" fill="#000"/><rect x="1344" y="794" width="1" height="2" fill="#000"/><text x="1594" y="36.6" fill="#000" stroke="#000" stroke-width="0.2" font-size="10" textLength="32.2" lengthAdjust="spacingAndGlyphs">1.32035</text><text x="1594" y="69.6" fill="#000" stroke="#000" stroke-width="0.2" font-size="10" textLength="32.2" lengthAdjust="spacingAndGlyphs">1.31510</text><text x="1594" y="102.6" fill="#000" stroke="#000" stroke-width="0.2" font-size="10" textLength="32.2" lengthAdjust="spacingAndGlyphs">1.30970</text><text x="1594" y="135.6" fill="#000" stroke="#000" stroke-width="0.2" font-size="10" textLength="32.2" lengthAdjust="spacingAndGlyphs">1.30445</text><text x="1594" y="168.6" fill="#000" stroke="#000" stroke-width="0.2" font-size="10" textLength="32.2" lengthAdjust="spacingAndGlyphs">1.29920</text><text x="1594" y="202.6" fill="#000" stroke="#000" stroke-width="0.2" font-size="10" textLength="32.2" lengthAdjust="spacingAndGlyphs">1.29380</text><text x="1594" y="234.6" fill="#000" stroke="#000" stroke-width="0.2" font-size="10" textLength="32.2" lengthAdjust="spacingAndGlyphs">1.28855</text><text x="1594" y="267.6" fill="#000" stroke="#000" stroke-width="0.2" font-size="10" textLength="32.2" lengthAdjust="spacingAndGlyphs">1.28330</text><text x="1594" y="301.6" fill="#000" stroke="#000" stroke-width="0.2" font-size="10" textLength="32.2" lengthAdjust="spacingAndGlyphs">1.27790</text><text x="1594" y="333.6" fill="#000" stroke="#000" stroke-width="0.2" font-size="10" textLength="32.2" lengthAdjust="spacingAndGlyphs">1.27265</text><text x="1594" y="366.6" fill="#000" stroke="#000" stroke-width="0.2" font-size="10" textLength="32.2" lengthAdjust="spacingAndGlyphs">1.26740</text><text x="1594" y="399.6" fill="#000" stroke="#000" stroke-width="0.2" font-size="10" textLength="32.2" lengthAdjust="spacingAndGlyphs">1.26215</text><text x="1594" y="433.6" fill="#000" stroke="#000" stroke-width="0.2" font-size="10" textLength="32.2" lengthAdjust="spacingAndGlyphs">1.25675</text><text x="1594" y="465.6" fill="#000" stroke="#000" stroke-width="0.2" font-size="10" textLength="32.2" lengthAdjust="spacingAndGlyphs">1.25150</text><text x="1594" y="498.6" fill="#000" stroke="#000" stroke-width="0.2" font-size="10" textLength="32.2" lengthAdjust="spacingAndGlyphs">1.24625</text><text x="1592" y="511.6" fill="#000" stroke="#000" stroke-width="0.2" font-size="10" textLength="39.2" lengthAdjust="spacingAndGlyphs">0.006844</text><text x="1592" y="583.6" fill="#000" stroke="#000" stroke-width="0.2" font-size="10" textLength="17.6" lengthAdjust="spacingAndGlyphs">0.00</text><text x="1592" y="656.6" fill="#000" stroke="#000" stroke-width="0.2" font-size="10" textLength="42.3" lengthAdjust="spacingAndGlyphs">-0.006894</text><text x="1592" y="671.6" fill="#000" stroke="#000" stroke-width="0.2" font-size="10" textLength="14.6" lengthAdjust="spacingAndGlyphs">100</text><text x="1592" y="691.6" fill="#000" stroke="#000" stroke-width="0.2" font-size="10" textLength="9.7" lengthAdjust="spacingAndGlyphs">80</text><text x="1592" y="730.6" fill="#000" stroke="#000" stroke-width="0.2" font-size="10" textLength="9.7" lengthAdjust="spacingAndGlyphs">50</text><text x="1592" y="776.6" fill="#000" stroke="#000" stroke-width="0.2" font-size="10" textLength="9.7" lengthAdjust="spacingAndGlyphs">15</text><text x="1592" y="789.6" fill="#000" stroke="#000" stroke-width="0.2" font-size="10" textLength="4.9" lengthAdjust="spacingAndGlyphs">0</text><text x="-2" y="806.0" fill="#000" stroke="#000" stroke-width="0.2">2 Nov 2018</text><text x="64" y="806.0" fill="#000" stroke="#000" stroke-width="0.2">5 Nov 08:00</text><text x="128" y="806.0" fill="#000" stroke="#000" stroke-width="0.2">6 Nov 16:00</text><text x="192" y="806.0" fill="#000" stroke="#000" stroke-width="0.2">8 Nov 00:00</text><text x="256" y="806.0" fill="#000" stroke="#000" stroke-width="0.2">9 Nov 08:00</text><text x="320" y="806.0" fill="#000" stroke="#000" stroke-width="0.2">12 Nov 16:00</text><text x="384" y="806.0" fill="#000" stroke="#000" stroke-width="0.2">14 Nov 00:00</text><text x="448" y="806.0" fill="#000" stroke="#000" stroke-width="0.2">15 Nov 08:00</text><text x="512" y="806.0" fill="#000" stroke="#000" stroke-width="0.2">16 Nov 16:00</text><text x="576" y="806.0" fill="#000" stroke="#000" stroke-width="0.2">20 Nov 00:00</text><text x="640" y="806.0" fill="#000" stroke="#000" stroke-width="0.2">21 Nov 08:00</text><text x="704" y="806.0" fill="#000" stroke="#000" stroke-width="0.2">22 Nov 16:00</text><text x="768" y="806.0" fill="#000" stroke="#000" stroke-width="0.2">26 Nov 00:00</text><text x="832" y="806.0" fill="#000" stroke="#000" stroke-width="0.2">27 Nov 08:00</text><text x="896" y="806.0" fill="#000" stroke="#000" stroke-width="0.2">28 Nov 16:00</text><text x="960" y="806.0" fill="#000" stroke="#000" stroke-width="0.2">30 Nov 00:00</text><text x="1024" y="806.0" fill="#000" stroke="#000" stroke-width="0.2" textLength="50.8" lengthAdjust="spacingAndGlyphs">3 Dec 08:00</text><text x="1088" y="806.0" fill="#000" stroke="#000" stroke-width="0.2" textLength="50.8" lengthAdjust="spacingAndGlyphs">4 Dec 16:00</text><text x="1152" y="806.0" fill="#000" stroke="#000" stroke-width="0.2" textLength="50.8" lengthAdjust="spacingAndGlyphs">6 Dec 00:00</text><text x="1216" y="806.0" fill="#000" stroke="#000" stroke-width="0.2" textLength="50.8" lengthAdjust="spacingAndGlyphs">7 Dec 08:00</text><text x="1280" y="806.0" fill="#000" stroke="#000" stroke-width="0.2" textLength="54.6" lengthAdjust="spacingAndGlyphs">10 Dec 16:00</text><text x="1344" y="806.0" fill="#000" stroke="#000" stroke-width="0.2" textLength="54.6" lengthAdjust="spacingAndGlyphs">12 Dec 00:00</text><rect x="1590" y="274" width="40" height="11" fill="#ff0000"/><text x="1594.4" y="283.6" fill="#fff" stroke="#fff" stroke-width="0.15" font-size="10" textLength="32.2" lengthAdjust="spacingAndGlyphs">1.28071</text><rect x="1590" y="329" width="40" height="11" fill="#ff0000"/><text x="1594.4" y="338.6" fill="#fff" stroke="#fff" stroke-width="0.15" font-size="10" textLength="32.2" lengthAdjust="spacingAndGlyphs">1.27190</text><rect x="1590" y="359" width="40" height="11" fill="#008000"/><text x="1594.4" y="368.6" fill="#fff" stroke="#fff" stroke-width="0.15" font-size="10" textLength="32.2" lengthAdjust="spacingAndGlyphs">1.26710</text><rect x="1590" y="433" width="40" height="11" fill="#0000ff"/><text x="1594.4" y="442.6" fill="#fff" stroke="#fff" stroke-width="0.15" font-size="10" textLength="32.2" lengthAdjust="spacingAndGlyphs">1.25517</text><rect x="1590" y="476" width="40" height="11" fill="#0000ff"/><text x="1594.4" y="485.6" fill="#fff" stroke="#fff" stroke-width="0.15" font-size="10" textLength="32.2" lengthAdjust="spacingAndGlyphs">1.24831</text><rect x="1590" y="383" width="40" height="11" fill="#000000"/><text x="1594.4" y="392.6" fill="#fff" stroke="#fff" stroke-width="0.15" font-size="10" textLength="32.2" lengthAdjust="spacingAndGlyphs">1.26316</text><path d="M1392 29 H1401 L1396.5 33.8 Z" fill="#c0c0c0"/><path d="M3 39 L10 39 L6.5 35 Z" fill="#000"/><text x="15" y="40" fill="#000" textLength="204" lengthAdjust="spacingAndGlyphs">GBPUSD-,H4&#160;&#160;1.26336 1.26699 1.25914 1.26316</text><text x="4" y="513.4" fill="#000" textLength="154" lengthAdjust="spacingAndGlyphs">MACD(12,26,9) -0.003189 -0.005209</text><text x="4" y="674.5" fill="#000" textLength="67.7" lengthAdjust="spacingAndGlyphs">RSI(14) 50.8086</text></g>
<defs><linearGradient id="gtab" x1="0" y1="0" x2="0" y2="1"><stop offset="0" stop-color="#fa5454"/><stop offset="1" stop-color="#e33434"/></linearGradient><linearGradient id="gbox" x1="0" y1="0" x2="0" y2="1"><stop offset="0" stop-color="#e23434"/><stop offset="1" stop-color="#b00000"/></linearGradient><linearGradient id="gbtn" x1="0" y1="0" x2="0" y2="1"><stop offset="0" stop-color="#f2f2f2"/><stop offset="0.45" stop-color="#ebebeb"/><stop offset="0.5" stop-color="#dcdcdc"/><stop offset="1" stop-color="#d0d0d0"/></linearGradient></defs><rect x="0" y="45" width="224" height="69" fill="#fff"/><path d="M3 48 H55 V72 H112 V112 H3 Z" fill="url(#gbox)"/><rect x="4" y="49" width="50" height="23" fill="url(#gtab)"/><path d="M3.5 48.5 H54.5 V72" stroke="#b80000" stroke-width="1" fill="none"/><path d="M3.5 48.5 V111.5" stroke="#b80000" stroke-width="1" fill="none"/><rect x="7" y="71" width="44" height="1" fill="#8a0000"/><rect x="7" y="72" width="44" height="1" fill="#f06060"/><path d="M170 48 H222 V112 H114 V72 H170 Z" fill="url(#gbox)"/><rect x="171" y="49" width="50" height="23" fill="url(#gtab)"/><path d="M170.5 72 V48.5 H221.5 V111.5" stroke="#b80000" stroke-width="1" fill="none"/><rect x="114" y="72" width="1" height="40" fill="#b00000"/><rect x="111" y="72" width="1" height="40" fill="#b00000"/><rect x="174" y="71" width="44" height="1" fill="#8a0000"/><rect x="174" y="72" width="44" height="1" fill="#f06060"/><rect x="57.5" y="48.5" width="110" height="21" fill="#fff" stroke="#a8a8b0" stroke-width="1"/><rect x="58.5" y="49.5" width="19.5" height="19" fill="url(#gbtn)" stroke="#c8c8c8" stroke-width="0.8"/><rect x="147" y="49.5" width="20" height="19" fill="url(#gbtn)" stroke="#c8c8c8" stroke-width="0.8"/><rect x="78" y="49" width="1" height="20" fill="#b8b8b8"/><rect x="146" y="49" width="1" height="20" fill="#b8b8b8"/><path d="M65.5 57.5 H70 L67.75 60 Z" fill="#5060c0"/><path d="M154.5 60 H159 L156.75 57.5 Z" fill="#5060c0"/><text x="120" y="63" font-size="12.5" fill="#000" style="font-family:'Liberation Sans',sans-serif">1.00</text><text x="15.4" y="64" font-size="12.3" fill="#fff" style="font-family:'Liberation Sans',sans-serif" textLength="25.5" lengthAdjust="spacingAndGlyphs">SELL</text><text x="183.5" y="64" font-size="12.3" fill="#fff" style="font-family:'Liberation Sans',sans-serif" textLength="23.5" lengthAdjust="spacingAndGlyphs">BUY</text><text x="23.5" y="103" font-size="11.5" font-weight="bold" fill="#fff" style="font-family:'Liberation Sans',sans-serif">1.26</text><text x="51" y="103" font-size="33" fill="#fff" style="font-family:'Liberation Sans',sans-serif" textLength="33" lengthAdjust="spacingAndGlyphs">31</text><text x="89.5" y="87" font-size="12" font-weight="bold" fill="#fff" style="font-family:'Liberation Sans',sans-serif">6</text><text x="133.4" y="103" font-size="11.5" font-weight="bold" fill="#fff" style="font-family:'Liberation Sans',sans-serif">1.26</text><text x="162.5" y="103" font-size="33" fill="#fff" style="font-family:'Liberation Sans',sans-serif" textLength="34" lengthAdjust="spacingAndGlyphs">34</text><text x="201" y="87" font-size="12" font-weight="bold" fill="#fff" style="font-family:'Liberation Sans',sans-serif">5</text>
<rect x="0" y="814" width="1630" height="1" fill="#e3e3e3"/>
<rect x="0" y="817" width="654" height="1" fill="#000"/><rect x="653" y="816" width="1" height="2" fill="#000"/>
<rect x="748" y="817" width="882" height="1" fill="#000"/><rect x="748" y="816" width="1" height="2" fill="#000"/>

</svg>
</body></html>
